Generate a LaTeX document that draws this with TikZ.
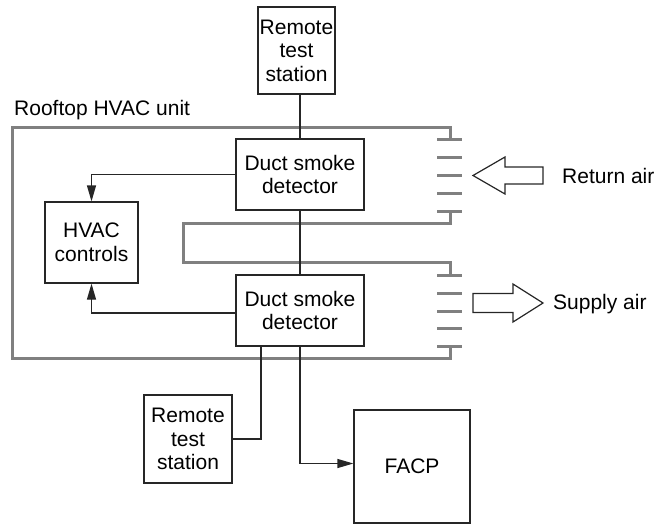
\documentclass[tikz,border=0pt]{standalone}
\usepackage{fontspec}
\setmainfont{Liberation Sans}
\usepackage{xcolor}
\usepackage{tikz}
\usetikzlibrary{positioning, arrows.meta}
\definecolor{ductgray}{RGB}{128,128,128}

\begin{document}
\begin{tikzpicture}[x=1pt, y=-1pt,
    box/.style={draw=black!85, line width=1.2pt, align=center, inner sep=0pt,
        font=\fontsize{21}{23.5}\selectfont},
    wire/.style={black!85, line width=1.2pt},
    arr/.style={wire, -{Triangle[length=16pt,width=9pt]}},
    duct/.style={ductgray, line width=3pt},
    lbl/.style={inner sep=0pt, anchor=base west, font=\fontsize{21}{23.5}\selectfont}]
    \useasboundingbox (0,0) rectangle (658,525);
    % rooftop unit with its two grilles
    \draw[duct] (450,139) -- (450,127) -- (12,127) -- (12,358) -- (450,358) -- (450,346);
    \draw[duct] (450,211) -- (450,223) -- (183,223) -- (183,262) -- (450,262) -- (450,275);
    \foreach \y in {139,157,175,193,211,275,293,311,328,346} {
        \draw[duct] (437,\y) -- (462,\y);
    }
    \node[lbl] (unit) at (14,115) {Rooftop HVAC unit};
    % air arrows
    \draw[wire] (473,175.5) -- (505,157) -- (505,167) -- (543,167) -- (543,184) -- (505,184) -- (505,194) -- cycle;
    \node[lbl] (ret) at (562,183) {Return air};
    \draw[wire] (543,303) -- (513,284) -- (513,293.5) -- (473,293.5) -- (473,312.5) -- (513,312.5) -- (513,322) -- cycle;
    \node[lbl] (sup) at (553,309.5) {Supply air};
    % boxes
    \node[box, minimum width=77pt, minimum height=87pt] (rtop) at (296.5,50.5) {Remote\\test\\station};
    \node[box, minimum width=128pt, minimum height=71pt] (det1) at (300,174.5) {Duct smoke\\detector};
    \node[box, minimum width=128pt, minimum height=71pt] (det2) at (300,310.5) {Duct smoke\\detector};
    \node[box, minimum width=93pt, minimum height=81pt] (hvac) at (91.5,242.5) {HVAC\\controls};
    \node[box, minimum width=88pt, minimum height=88pt] (rbot) at (188,439) {Remote\\test\\station};
    \node[box, minimum width=116pt, minimum height=113pt] (facp) at (412,466.5) {FACP};
    % connections
    \draw[wire] (rtop.south -| det1.north) -- (det1.north);
    \draw[wire] (det1) -- (det2);
    \draw[arr] (det1.west) -| (hvac.north);
    \draw[arr] ([yshift=-2.5pt]det2.west) -| (hvac.south);
    \draw[wire] ([xshift=-39pt]det2.south) |- (rbot.east);
    \draw[arr] (det2.south) |- ([yshift=3pt]facp.west);
\end{tikzpicture}
\end{document}
